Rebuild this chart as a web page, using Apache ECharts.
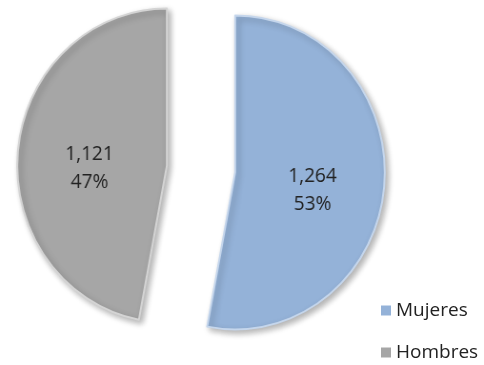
<!DOCTYPE html>
<html><head><meta charset="utf-8">
<script src="https://cdn.jsdelivr.net/npm/echarts@6/dist/echarts.min.js"></script>
<style>html,body{margin:0;padding:0;background:#fff}
#wrap{position:relative;width:484px;height:365px;overflow:hidden}
#p{position:absolute;left:0;top:0;width:484px;height:365px;transform:scaleX(0.953);transform-origin:201px 0}
#l{position:absolute;left:0;top:0;width:484px;height:420px}</style>
</head><body><div id="wrap"><div id="p"></div><div id="l"></div></div>
<script>
const categories = ["Mujeres", "Hombres"];
const values = [1264, 1121];
const percents = ["53%", "47%"];
const colors = ["#94B2D8", "#A6A6A6"];
const borderColors = ["#C5D6EC", "#D4D4D4"];

const pie = echarts.init(document.getElementById('p'));
pie.setOption({
  animation: false,
  series: [{
    type: 'pie',
    center: [201, 169],
    radius: 157,
    startAngle: 90,
    clockwise: true,
    selectedMode: 'multiple',
    selectedOffset: 36,
    label: {
      position: 'inside',
      fontFamily: 'Open Sans', fontSize: 20, lineHeight: 28, color: '#222',
      rich: {
        s: { fontSize: 10, lineHeight: 20 },
        t: { fontFamily: 'Open Sans', fontSize: 20, lineHeight: 28, color: '#222' }
      },
      formatter: p => '{s| }\n{t|' + echarts.format.addCommas(p.value) + '}\n{t|' + percents[p.dataIndex] + '}'
    },
    labelLine: { show: false },
    emphasis: { disabled: true },
    data: categories.map((n, i) => ({
      name: n, value: values[i], selected: true,
      itemStyle: { color: colors[i], borderColor: borderColors[i], borderWidth: 2,
        shadowBlur: 6, shadowOffsetX: 3, shadowOffsetY: 3, shadowColor: 'rgba(0,0,0,0.3)' }
    }))
  }]
});

const leg = echarts.init(document.getElementById('l'));
leg.setOption({
  animation: false,
  legend: {
    orient: 'vertical', left: 376, top: 296,
    itemWidth: 10, itemHeight: 10, itemGap: 23, icon: 'rect',
    textStyle: { fontFamily: 'Open Sans', fontSize: 19, color: '#222' },
    data: categories.map((n, i) => ({ name: n, itemStyle: { color: colors[i] } }))
  },
  series: [{ type: 'pie', radius: 0, data: categories.map((n, i) => ({ name: n, value: values[i], itemStyle: { color: colors[i] } })), label: { show: false } }]
});
</script></body></html>
